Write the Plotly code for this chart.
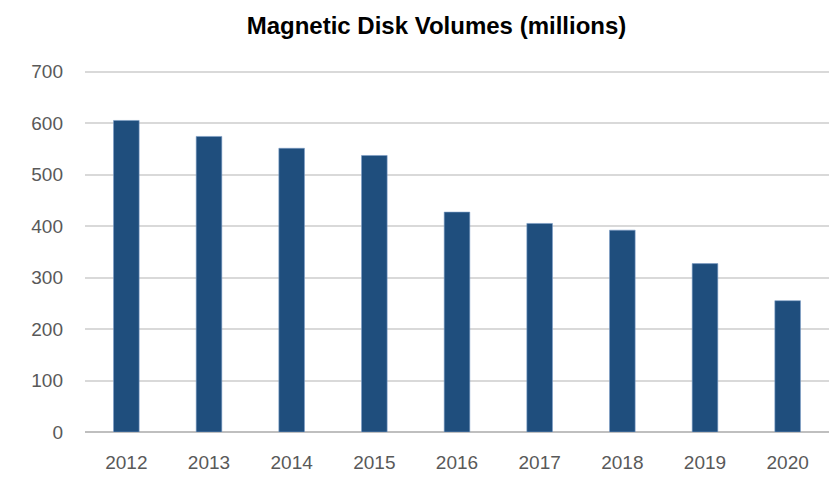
import plotly.graph_objects as go

years = ["2012", "2013", "2014", "2015", "2016", "2017", "2018", "2019", "2020"]
volumes = [605, 574, 551, 537, 427, 405, 392, 327, 255]
y_ticks = [0, 100, 200, 300, 400, 500, 600, 700]

fig = go.Figure(go.Bar(
    x=years, y=volumes,
    marker=dict(color="#1F4E7D", line=dict(color="#7A9CC6", width=0.6)),
))

fig.update_layout(
    width=829, height=478,
    paper_bgcolor="white", plot_bgcolor="white",
    margin=dict(l=85, r=0, t=70, b=46, autoexpand=False),
    bargap=0.69,
    showlegend=False,
    title=dict(text="<b>Magnetic Disk Volumes (millions)</b>", x=436.5 / 829, xanchor="center",
               y=1 - 26 / 478, yanchor="middle", yref="container",
               font=dict(family="Liberation Sans, Arial", size=24, color="#000000")),
    font=dict(family="Liberation Sans, Arial", size=18, color="#595959"),
)
fig.update_yaxes(range=[0, 703], tickvals=y_ticks, showgrid=True, gridcolor="#D9D9D9",
                 gridwidth=1.5, zeroline=True, zerolinecolor="#BFBFBF", zerolinewidth=1.5,
                 automargin=False,
                 ticks="", ticklabelstandoff=21, tickfont=dict(size=19, color="#595959"))
fig.update_xaxes(showgrid=False, showline=False, ticks="", ticklabelstandoff=17,
                 automargin=False,
                 tickfont=dict(size=19, color="#595959"))

fig.write_html("out.html", config={"displayModeBar": False},
               post_script="document.body.style.margin='0';")
